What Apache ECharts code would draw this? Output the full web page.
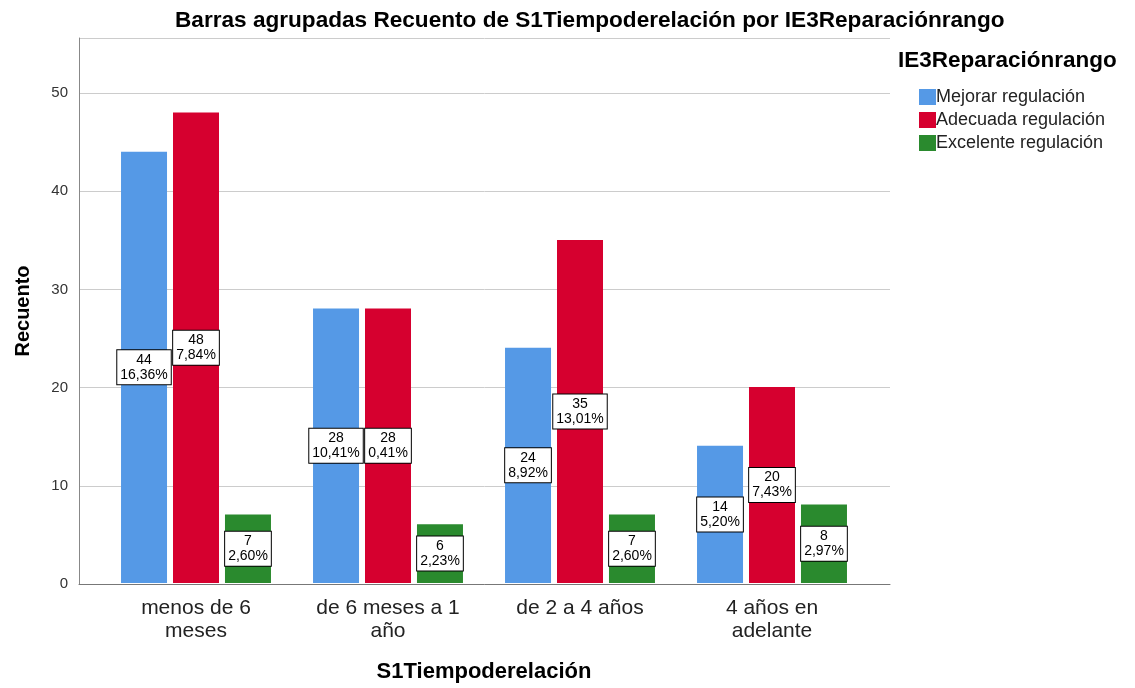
<!DOCTYPE html>
<html>
<head>
<meta charset="utf-8">
<script src="https://cdn.jsdelivr.net/npm/echarts@6/dist/echarts.min.js"></script>
<style>
html, body { margin: 0; padding: 0; background: #fff; }
#chart { width: 1135px; height: 688px; }
</style>
</head>
<body>
<div id="chart"></div>
<script>
var categories = ['menos de 6\nmeses', 'de 6 meses a 1\naño', 'de 2 a 4 años', '4 años en\nadelante'];
var seriesNames = ['Mejorar regulación', 'Adecuada regulación', 'Excelente regulación'];
var mejorar = [44, 28, 24, 14];
var adecuada = [48, 28, 35, 20];
var excelente = [7, 6, 7, 8];
var mejorarPct = ['16,36%', '10,41%', '8,92%', '5,20%'];
var adecuadaPct = ['7,84%', '0,41%', '13,01%', '7,43%'];
var excelentePct = ['2,60%', '2,23%', '2,60%', '2,97%'];
var colors = ['#5599e6', '#d6002f', '#2a8a2e'];

var dom = document.getElementById('chart');
var myChart = echarts.init(dom);
var font = 'Liberation Sans, Arial, sans-serif';
var yMax = 55.6;

var labelOption = function (pcts) {
    return {
        show: true,
        position: 'inside',
        formatter: function (p) { return p.value + '\n' + pcts[p.dataIndex]; },
        color: '#000',
        fontFamily: font,
        fontSize: 14,
        lineHeight: 15,
        backgroundColor: '#fff',
        borderColor: '#000',
        borderWidth: 1,
        padding: [3, 3, 1, 3]
    };
};

var makeSeries = function (name, data, pcts, color) {
    return {
        name: name,
        type: 'bar',
        xAxisIndex: 1,
        yAxisIndex: 1,
        data: data,
        barWidth: 46,
        barGap: '13%',
        itemStyle: { color: color },
        label: labelOption(pcts)
    };
};

var option = {
    animation: false,
    textStyle: { fontFamily: font },
    title: {
        text: 'Barras agrupadas Recuento de S1Tiempoderelación por IE3Reparaciónrango',
        left: 170,
        top: 4,
        textStyle: { fontFamily: font, fontSize: 22.6, fontWeight: 'bold', color: '#000' }
    },
    graphic: [{
        type: 'text',
        left: 898,
        top: 49,
        style: { text: 'IE3Reparaciónrango', font: 'bold 22.5px ' + font, fill: '#000' }
    }],
    legend: {
        data: seriesNames,
        orient: 'vertical',
        left: 914,
        top: 82,
        itemWidth: 17,
        itemHeight: 16,
        itemGap: 3,
        icon: 'rect',
        textStyle: { fontFamily: font, fontSize: 18, lineHeight: 20, color: '#222', padding: [0, 0, 0, -5] }
    },
    grid: [
        { left: 79, right: 245, top: 38, bottom: 104 },
        { left: 100, right: 267, top: 38, bottom: 104 }
    ],
    xAxis: [{
        type: 'category',
        gridIndex: 0,
        data: categories,
        axisTick: { show: false },
        axisLabel: { show: false },
        axisLine: { lineStyle: { color: '#777' } }
    }, {
        type: 'category',
        gridIndex: 1,
        data: categories,
        name: 'S1Tiempoderelación',
        nameLocation: 'middle',
        nameGap: 78,
        nameTextStyle: { fontFamily: font, fontSize: 22, fontWeight: 'bold', color: '#000' },
        axisTick: { show: false },
        axisLine: { show: false },
        axisLabel: { fontFamily: font, fontSize: 21, color: '#222', lineHeight: 23, margin: 14 }
    }],
    yAxis: [{
        type: 'value',
        gridIndex: 0,
        min: 0,
        max: yMax,
        interval: 10,
        name: 'Recuento',
        nameLocation: 'middle',
        nameGap: 46,
        nameTextStyle: { fontFamily: font, fontSize: 20, fontWeight: 'bold', color: '#000' },
        axisLine: { show: true, lineStyle: { color: '#888' } },
        axisTick: { show: false },
        axisLabel: { fontFamily: font, fontSize: 15, color: '#333', showMaxLabel: false, margin: 11 },
        splitLine: { lineStyle: { color: '#ccc' } }
    }, {
        type: 'value',
        gridIndex: 1,
        min: 0,
        max: yMax,
        interval: 10,
        show: false,
        splitLine: { show: false }
    }],
    series: [
        makeSeries(seriesNames[0], mejorar, mejorarPct, colors[0]),
        makeSeries(seriesNames[1], adecuada, adecuadaPct, colors[1]),
        makeSeries(seriesNames[2], excelente, excelentePct, colors[2])
    ]
};

if (option && typeof option === 'object') {
    myChart.setOption(option, true);
}
</script>
</body>
</html>
